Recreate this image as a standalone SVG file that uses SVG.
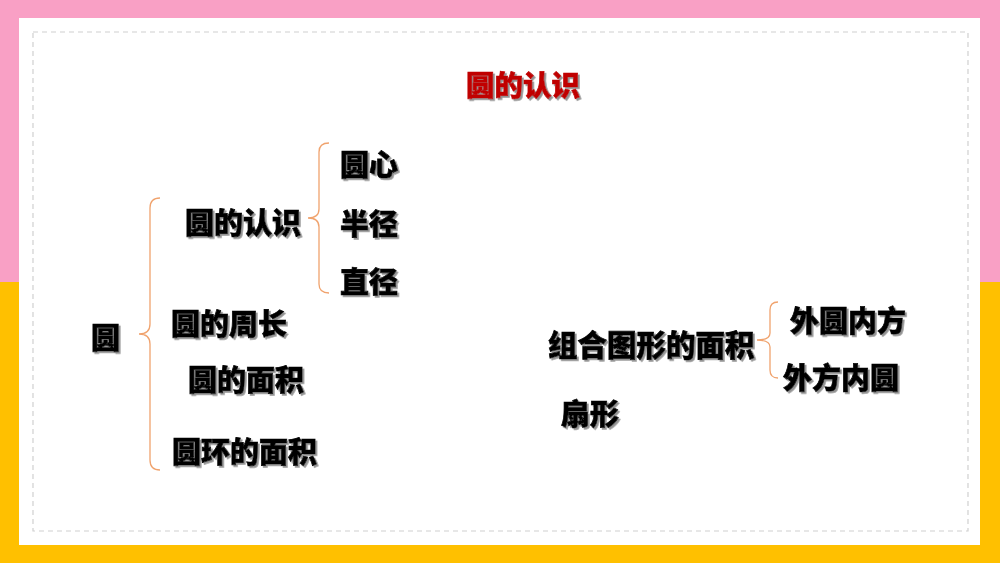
<svg xmlns="http://www.w3.org/2000/svg" width="1000" height="563" viewBox="0 0 1000 563">
<defs>
<filter id="sh" x="-10%" y="-20%" width="130%" height="150%">
<feDropShadow dx="1.8" dy="1.8" stdDeviation="0.7" flood-color="#7f7f7f" flood-opacity="0.85"/>
</filter>
<style>
.t{font-family:"Noto Sans CJK SC","Noto Sans",sans-serif;font-weight:900;font-size:29px;fill:#000;stroke:#000;stroke-width:0.7;filter:url(#sh)}
.title{fill:#C00000;stroke:#C00000;font-size:28.5px}
.br{fill:none;stroke:#F0A36E;stroke-width:1.3}
</style>
</defs>
<rect x="0" y="0" width="1000" height="282" fill="#F9A0C5"/>
<rect x="0" y="282" width="1000" height="281" fill="#FFC000"/>
<rect x="19" y="18" width="961" height="527" fill="#FFFFFF"/>
<rect x="33" y="32" width="935" height="499" fill="none" stroke="#D0D0D0" stroke-width="1.2" stroke-dasharray="5,4"/>
<g id="title"><text class="t title" x="466" y="96">圆的认识</text></g>
<g id="connectors">
<path class="br" d="M160,198 Q150,198 150,208 L150,324 Q150,334 139,334 Q150,334 150,344 L150,460 Q150,470 160,470"/>
<path class="br" d="M329,143 Q319,143 319,152 L319,209 Q319,218 308,218 Q319,218 319,227 L319,284 Q319,293 329,293"/>
<path class="br" d="M778,302 Q770,302 770,310 L770,333 Q770,340 757,340 Q770,340 770,347 L770,370 Q770,378 778,378"/>
</g>
<g id="n-yuan"><text class="t" x="91" y="349">圆</text></g>
<g id="n-renshi"><text class="t" x="185" y="234">圆的认识</text></g>
<g id="n-yuanxin"><text class="t" x="340" y="176">圆心</text></g>
<g id="n-banjing"><text class="t" x="340" y="235">半径</text></g>
<g id="n-zhijing"><text class="t" x="340" y="293">直径</text></g>
<g id="n-zhouchang"><text class="t" x="171" y="335">圆的周长</text></g>
<g id="n-mianji"><text class="t" x="188" y="391">圆的面积</text></g>
<g id="n-yuanhuan"><text class="t" x="172" y="463">圆环的面积</text></g>
<g id="n-zuhe"><text class="t" x="548" y="356" style="font-size:29.5px">组合图形的面积</text></g>
<g id="n-waiyuan"><text class="t" x="790" y="332">外圆内方</text></g>
<g id="n-waifang"><text class="t" x="783" y="389">外方内圆</text></g>
<g id="n-shanxing"><text class="t" x="561" y="425">扇形</text></g>
</svg>
